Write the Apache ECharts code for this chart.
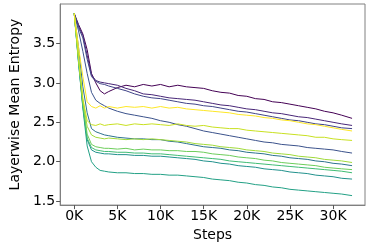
<!DOCTYPE html>
<html><head><meta charset="utf-8">
<script src="https://cdn.jsdelivr.net/npm/echarts@6/dist/echarts.min.js"></script>
<style>html,body{margin:0;padding:0;background:#fff}#c{width:370px;height:247px}</style>
</head><body><div id="c"></div>
<script>
// steps in thousands
const steps = [0,0.5,1,1.5,2,2.5,3,3.5,4,5,6,7,8,9,10,11,12,13,14,15,16,17,18,19,20,21,22,23,24,25,26,27,28,29,30,31,32.2];
const xTicks = [0,5,10,15,20,25,30];
const yTicks = [1.5,2.0,2.5,3.0,3.5];

const darkPurple = [3.88,3.74,3.62,3.42,3.12,3.00,2.90,2.86,2.89,2.94,2.97,2.95,2.98,2.96,2.98,2.95,2.97,2.95,2.94,2.93,2.90,2.88,2.87,2.84,2.83,2.80,2.79,2.76,2.75,2.73,2.71,2.69,2.67,2.64,2.62,2.59,2.55];
const purple1 = [3.88,3.72,3.60,3.35,3.10,3.03,3.01,3.00,2.99,2.97,2.93,2.90,2.86,2.85,2.83,2.81,2.80,2.79,2.78,2.76,2.74,2.72,2.71,2.69,2.67,2.66,2.64,2.62,2.61,2.59,2.57,2.56,2.54,2.52,2.50,2.48,2.46];
const purple2 = [3.88,3.70,3.57,3.30,3.08,3.02,2.99,2.98,2.96,2.93,2.90,2.86,2.83,2.81,2.80,2.78,2.76,2.74,2.73,2.71,2.70,2.68,2.66,2.64,2.63,2.61,2.59,2.57,2.55,2.53,2.52,2.50,2.48,2.47,2.45,2.43,2.42];
const blue = [3.88,3.66,3.40,3.12,2.88,2.78,2.74,2.71,2.68,2.64,2.61,2.59,2.57,2.55,2.52,2.50,2.47,2.45,2.42,2.39,2.37,2.35,2.33,2.31,2.29,2.27,2.25,2.24,2.22,2.21,2.20,2.18,2.17,2.16,2.15,2.13,2.11];
const tealBlue = [3.88,3.45,2.95,2.62,2.42,2.38,2.36,2.34,2.33,2.31,2.30,2.29,2.29,2.28,2.28,2.26,2.25,2.23,2.21,2.19,2.18,2.17,2.15,2.14,2.12,2.11,2.10,2.08,2.07,2.05,2.04,2.03,2.01,2.00,1.98,1.97,1.95];
const tealGreen = [3.88,3.26,2.70,2.28,2.15,2.12,2.11,2.10,2.10,2.09,2.09,2.08,2.08,2.07,2.07,2.06,2.05,2.04,2.03,2.01,2.00,1.98,1.97,1.95,1.94,1.93,1.91,1.90,1.89,1.87,1.86,1.85,1.83,1.82,1.81,1.79,1.78];
const teal = [3.88,3.25,2.68,2.20,2.00,1.93,1.89,1.88,1.87,1.86,1.86,1.85,1.85,1.84,1.84,1.83,1.83,1.82,1.81,1.80,1.78,1.77,1.76,1.74,1.73,1.71,1.70,1.68,1.67,1.65,1.64,1.63,1.62,1.61,1.60,1.59,1.57];
const green = [3.88,3.28,2.72,2.30,2.18,2.15,2.14,2.13,2.13,2.12,2.12,2.11,2.11,2.10,2.10,2.09,2.08,2.07,2.06,2.05,2.04,2.03,2.01,2.00,1.99,1.98,1.97,1.96,1.95,1.94,1.93,1.92,1.91,1.90,1.89,1.88,1.86];
const lightGreen = [3.88,3.30,2.75,2.35,2.22,2.19,2.18,2.17,2.17,2.16,2.17,2.15,2.16,2.15,2.15,2.14,2.14,2.13,2.13,2.12,2.10,2.09,2.08,2.06,2.05,2.04,2.02,2.01,1.99,1.98,1.97,1.96,1.95,1.93,1.92,1.91,1.90];
const lime = [3.88,3.32,2.78,2.45,2.34,2.31,2.30,2.29,2.30,2.29,2.28,2.29,2.28,2.29,2.28,2.27,2.26,2.25,2.23,2.22,2.21,2.19,2.18,2.17,2.15,2.14,2.13,2.11,2.10,2.09,2.07,2.06,2.05,2.03,2.02,2.01,1.99];
const yellowGreen = [3.88,3.30,2.80,2.52,2.47,2.46,2.48,2.46,2.47,2.48,2.46,2.48,2.47,2.48,2.47,2.46,2.48,2.46,2.45,2.46,2.44,2.43,2.42,2.42,2.40,2.39,2.38,2.37,2.36,2.35,2.34,2.33,2.31,2.31,2.29,2.28,2.27];
const yellow = [3.88,3.45,3.08,2.76,2.70,2.68,2.71,2.68,2.70,2.68,2.70,2.69,2.70,2.68,2.70,2.68,2.69,2.67,2.66,2.65,2.64,2.63,2.62,2.60,2.59,2.58,2.56,2.55,2.53,2.52,2.50,2.48,2.47,2.45,2.43,2.41,2.39];

const seriesList = [
  {name:'L0', values: darkPurple, color:'#440154'},
  {name:'L1', values: purple1, color:'#482677'},
  {name:'L2', values: purple2, color:'#404387'},
  {name:'L3', values: blue, color:'#3b528b'},
  {name:'L4', values: tealBlue, color:'#2c718e'},
  {name:'L5', values: tealGreen, color:'#21918c'},
  {name:'L6', values: teal, color:'#22a085'},
  {name:'L7', values: green, color:'#3fbc73'},
  {name:'L8', values: lightGreen, color:'#6ccd5a'},
  {name:'L9', values: lime, color:'#a0da39'},
  {name:'L10', values: yellowGreen, color:'#c8e020'},
  {name:'L11', values: yellow, color:'#fde725'}
];

const font = 'DejaVu Sans';
const frame = '#808080';
const chart = echarts.init(document.getElementById('c'), null, {renderer:'canvas'});
chart.setOption({
  animation: false,
  grid: {left:47, right:5, top:4, bottom:39, show:true, borderColor:frame, borderWidth:1, backgroundColor:'transparent'},
  xAxis: {
    type:'value', min:-1.63, max:33.7,
    name:'Steps', nameLocation:'middle', nameGap:19,
    nameTextStyle:{fontFamily:font, fontSize:14, color:'#000'},
    axisLine:{show:true, onZero:false, lineStyle:{color:frame, width:1}},
    splitLine:{show:false},
    axisTick:{show:true, length:4, lineStyle:{color:'#555', width:1}, customValues:xTicks},
    axisLabel:{fontFamily:font, fontSize:14, color:'#000', margin:4, customValues:xTicks, formatter:v=>Math.round(v)+'K'}
  },
  yAxis: {
    type:'value', min:1.45, max:4.0,
    name:'Layerwise Mean Entropy', nameLocation:'middle', nameGap:33,
    nameTextStyle:{fontFamily:font, fontSize:14, color:'#000'},
    axisLine:{show:true, onZero:false, lineStyle:{color:frame, width:1}},
    splitLine:{show:false},
    axisTick:{show:true, length:4, lineStyle:{color:'#555', width:1}, customValues:yTicks},
    axisLabel:{fontFamily:font, fontSize:14, color:'#000', margin:5, customValues:yTicks, formatter:v=>v.toFixed(1)}
  },
  series: seriesList.map(s => ({
    type:'line', name:s.name, showSymbol:false, symbol:'none',
    lineStyle:{width:1, color:s.color}, itemStyle:{color:s.color},
    data: steps.map((x,i)=>[x, s.values[i]])
  }))
});
</script></body></html>
